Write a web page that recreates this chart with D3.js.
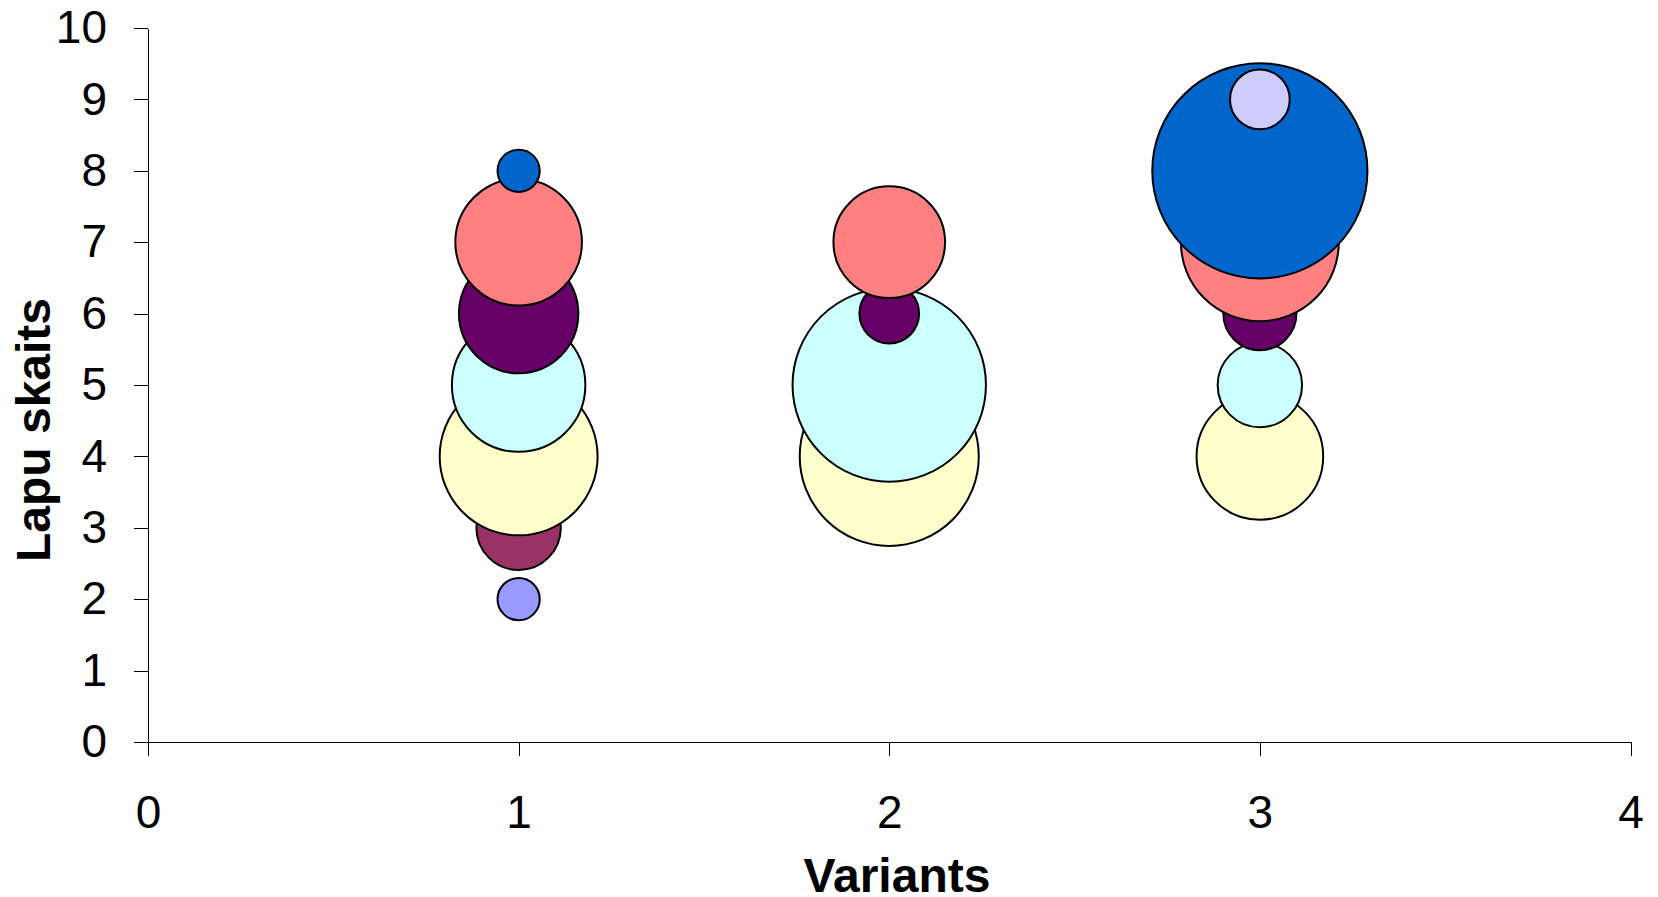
<!DOCTYPE html>
<html>
<head>
<meta charset="utf-8">
<script src="https://cdn.jsdelivr.net/npm/d3@7"></script>
<style>
  html, body { margin: 0; padding: 0; background: #fff; }
  svg { display: block; font-family: "Liberation Sans", Arial, sans-serif; }
</style>
</head>
<body>
<svg id="chart" width="1658" height="897"></svg>
<script>
// Leaf count (y) for each bubble series, and the variant (x) positions
const leafCounts = [2, 3, 4, 5, 6, 7, 8, 9];
const variants = [1, 2, 3];

// Number of plants per leaf count, one value per variant (0 = none)
const sizes2 = [1, 0, 0];
const sizes3 = [4, 0, 0];
const sizes4 = [14, 18, 9];
const sizes5 = [10, 21, 4];
const sizes6 = [8, 2, 3];
const sizes7 = [9, 7, 14];
const sizes8 = [1, 0, 26];
const sizes9 = [0, 0, 2];

const seriesColors = ["#9999FF", "#993366", "#FFFFCC", "#CCFFFF", "#660066", "#FF8080", "#0066CC", "#CCCCFF"];

const xTicks = [0, 1, 2, 3, 4];
const yTicks = [0, 1, 2, 3, 4, 5, 6, 7, 8, 9, 10];
const xTitle = "Variants";
const yTitle = "Lapu skaits";

const seriesSizes = [sizes2, sizes3, sizes4, sizes5, sizes6, sizes7, sizes8, sizes9];
const series = leafCounts.map((lc, i) => ({
  leaves: lc,
  color: seriesColors[i],
  points: variants.map((v, j) => ({ x: v, y: lc, size: seriesSizes[i][j] })).filter(p => p.size > 0)
}));

const svg = d3.select("#chart");
const plot = { left: 148, right: 1630.5, top: 28, bottom: 742 };

const x = d3.scaleLinear().domain([0, 4]).range([plot.left, plot.right]);
const y = d3.scaleLinear().domain([0, 10]).range([plot.bottom, plot.top]);
const maxSize = d3.max(seriesSizes.flat());
const r = d3.scaleSqrt().domain([0, maxSize]).range([0, 107.6]);

// Axes
const xAxis = d3.axisBottom(x).tickValues(xTicks).tickSize(14).tickSizeOuter(0).tickPadding(39).tickFormat(d3.format("d"));
const yAxis = d3.axisLeft(y).tickValues(yTicks).tickSize(14).tickSizeOuter(0).tickPadding(27).tickFormat(d3.format("d"));

const gx = svg.append("g").attr("transform", `translate(0,${plot.bottom})`).call(xAxis);
const gy = svg.append("g").attr("transform", `translate(${plot.left},0)`).call(yAxis);

[gx, gy].forEach(g => {
  g.selectAll("path.domain").attr("stroke", "#000").attr("stroke-width", 1).attr("shape-rendering", "crispEdges");
  g.selectAll(".tick line").attr("stroke", "#000").attr("stroke-width", 1).attr("shape-rendering", "crispEdges");
  g.selectAll(".tick text").attr("font-size", 46).attr("fill", "#000")
    .attr("font-family", "'Liberation Sans', Arial, sans-serif");
});

// Bubbles, drawn series by series so higher leaf counts sit on top
const bubbles = svg.append("g");
series.forEach(s => {
  bubbles.append("g").selectAll("circle")
    .data(s.points)
    .join("circle")
    .attr("cx", d => x(d.x))
    .attr("cy", d => y(d.y))
    .attr("r", d => r(d.size))
    .attr("fill", s.color)
    .attr("stroke", "#000")
    .attr("stroke-width", 2);
});

// Axis titles
svg.append("text")
  .attr("x", 897).attr("y", 892)
  .attr("text-anchor", "middle")
  .attr("font-size", 48).attr("font-weight", "bold")
  .text(xTitle);

svg.append("text")
  .attr("transform", "translate(50,430) rotate(-90)")
  .attr("text-anchor", "middle")
  .attr("font-size", 48).attr("font-weight", "bold")
  .text(yTitle);
</script>
</body>
</html>
